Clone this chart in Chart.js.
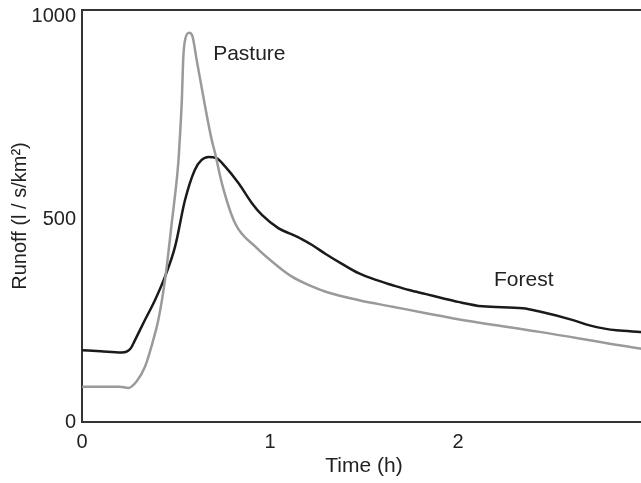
<!DOCTYPE html>
<html>
<head>
<meta charset="utf-8">
<script src="https://cdn.jsdelivr.net/npm/chart.js@4"></script>
<style>
  html, body { margin: 0; padding: 0; background: #fff; overflow: hidden; }
  #wrap { width: 641px; height: 483px; overflow: hidden; }
</style>
</head>
<body>
<div id="wrap"><canvas id="runoffChart" width="662" height="483"></canvas></div>
<script>
// values
const pastureTime   = [0, 0.1, 0.2, 0.246, 0.29, 0.335, 0.379, 0.406, 0.4415, 0.477, 0.5125, 0.518, 0.531, 0.539, 0.55, 0.57, 0.587, 0.61, 0.655, 0.69, 0.708, 0.744, 0.815, 0.922, 1.046, 1.117, 1.207, 1.296, 1.474, 1.652, 1.83, 2.0, 2.434, 2.968, 3.0];
const pastureRunoff = [87, 87, 87, 84, 100, 136, 202, 251, 350, 489, 640, 680, 793, 900, 945, 959, 951, 892, 777, 695, 662, 588, 489, 432, 382, 358, 337, 321, 300, 284, 268, 253, 222, 181, 179];
const forestTime    = [0, 0.1, 0.21, 0.24, 0.26, 0.28, 0.33, 0.388, 0.4415, 0.495, 0.548, 0.6, 0.635, 0.673, 0.715, 0.762, 0.833, 0.904, 0.957, 1.046, 1.117, 1.171, 1.224, 1.296, 1.385, 1.474, 1.563, 1.652, 1.74, 1.83, 1.918, 2.0, 2.13, 2.345, 2.434, 2.612, 2.7, 2.78, 2.843, 2.968, 3.0];
const forestRunoff  = [177, 174, 171, 174, 182, 200, 247, 300, 358, 432, 547, 621, 645, 653, 650, 629, 588, 539, 510, 477, 462, 450, 436, 414, 389, 366, 350, 337, 325, 315, 305, 296, 285, 280, 272, 251, 238, 230, 226, 222, 221];
const xTicks = [0, 1, 2, 3];
const yTicks = [0, 500, 1000];

const labels = [
  { text: 'Pasture', x: 0.89, y: 905 },
  { text: 'Forest', x: 2.35, y: 350 }
];

const toPoints = (xs, ys) => xs.map((x, i) => ({ x: x, y: ys[i] }));

const fontFam = '"Liberation Sans", Arial, sans-serif';
const ink = '#222';
const fontSize = 20;

// top frame line + curve labels
const extras = {
  id: 'extras',
  afterDraw(chart) {
    const ctx = chart.ctx, a = chart.chartArea;
    const xs = chart.scales.x, ys = chart.scales.y;
    ctx.save();
    ctx.strokeStyle = '#333';
    ctx.lineWidth = 2;
    ctx.beginPath();
    ctx.moveTo(a.left - 1, a.top);
    ctx.lineTo(a.right + 20, a.top);
    ctx.stroke();
    ctx.fillStyle = ink;
    ctx.font = '21px ' + fontFam;
    ctx.textAlign = 'center';
    ctx.textBaseline = 'middle';
    labels.forEach(l => ctx.fillText(l.text, xs.getPixelForValue(l.x), ys.getPixelForValue(l.y)));
    ctx.restore();
  }
};

const chart = new Chart(document.getElementById('runoffChart').getContext('2d'), {
  type: 'line',
  data: {
    datasets: [
      {
        label: 'Pasture',
        data: toPoints(pastureTime, pastureRunoff),
        borderColor: '#9a9a9a',
        borderWidth: 2.5,
        pointRadius: 0,
        cubicInterpolationMode: 'monotone'
      },
      {
        label: 'Forest',
        data: toPoints(forestTime, forestRunoff),
        borderColor: '#1a1a1a',
        borderWidth: 2.5,
        pointRadius: 0,
        cubicInterpolationMode: 'monotone'
      }
    ]
  },
  options: {
    responsive: false,
    animation: false,
    layout: { padding: { left: 0, right: 16, top: 10, bottom: 0 } },
    plugins: { legend: { display: false }, tooltip: { enabled: false } },
    scales: {
      x: {
        type: 'linear',
        min: 0,
        max: 3,
        afterBuildTicks: s => { s.ticks = xTicks.map(v => ({ value: v })); },
        afterFit: s => { s.height = 61; s.paddingLeft = 0; s.paddingRight = 0; },
        grid: { display: false, drawTicks: false },
        border: { display: true, color: '#333', width: 2 },
        ticks: { color: ink, padding: 8, font: { family: fontFam, size: fontSize }, maxRotation: 0 },
        title: { display: true, text: 'Time (h)', color: ink, font: { family: fontFam, size: 21 }, padding: { top: 2, bottom: 4 } }
      },
      y: {
        min: 0,
        max: 1015,
        afterBuildTicks: s => { s.ticks = yTicks.map(v => ({ value: v })); },
        afterFit: s => { s.width = 82; s.paddingTop = 0; s.paddingBottom = 0; },
        grid: { display: false, drawTicks: false },
        border: { display: true, color: '#333', width: 2 },
        ticks: { color: ink, padding: 6, font: { family: fontFam, size: fontSize }, callback: v => String(v) },
        title: { display: true, text: 'Runoff (l / s/km²)', color: ink, font: { family: fontFam, size: 20 }, padding: { top: 8, bottom: 4 } }
      }
    }
  },
  plugins: [extras]
});
</script>
</body>
</html>
